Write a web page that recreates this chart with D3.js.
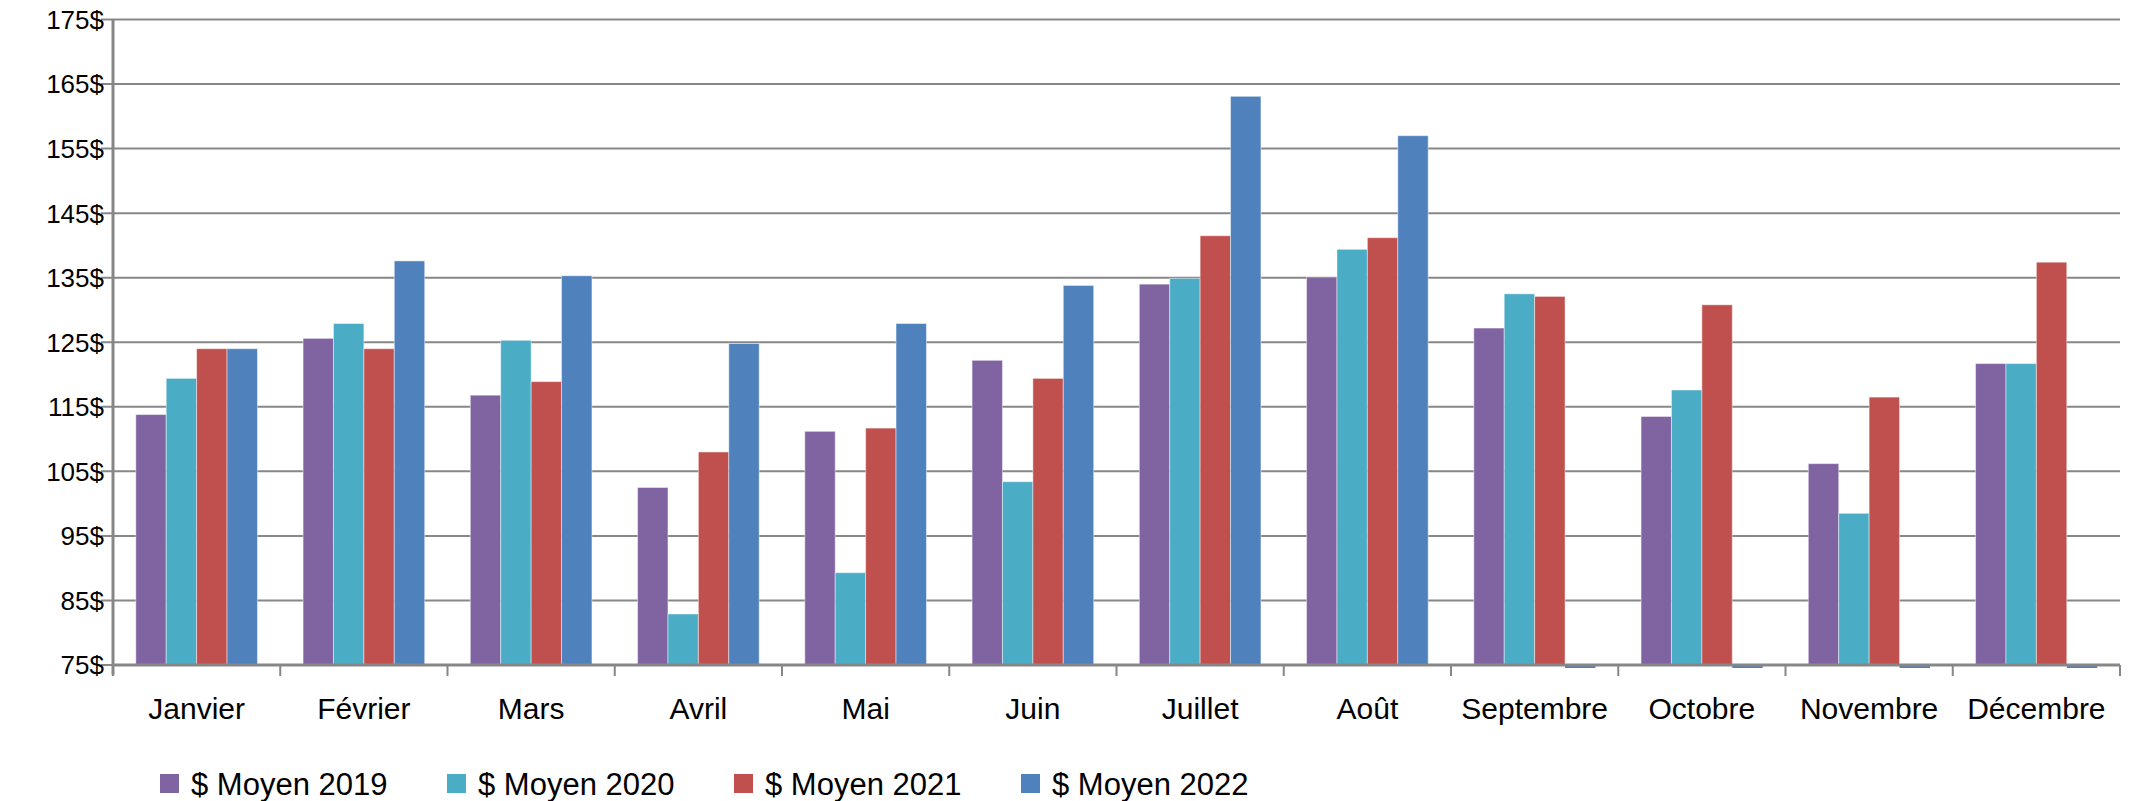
<!DOCTYPE html>
<html><head><meta charset="utf-8">
<script src="https://cdn.jsdelivr.net/npm/d3@7"></script>
<style>
html,body{margin:0;padding:0;background:#fff;}
svg{display:block;}
text{font-family:"Liberation Sans","Arial",sans-serif;fill:#000;}
</style></head>
<body>
<svg id="chart" width="2139" height="801"></svg>
<script>
const months = ["Janvier","Février","Mars","Avril","Mai","Juin","Juillet","Août","Septembre","Octobre","Novembre","Décembre"];
const seriesNames = ["$ Moyen 2019","$ Moyen 2020","$ Moyen 2021","$ Moyen 2022"];
const v2019 = [113.8,125.6,116.8,102.5,111.2,122.2,134.0,135.1,127.2,113.5,106.2,121.7];
const v2020 = [119.4,127.9,125.3,82.9,89.3,103.4,134.9,139.4,132.5,117.6,98.5,121.7];
const v2021 = [124.0,124.0,118.9,108.0,111.7,119.4,141.5,141.2,132.1,130.8,116.5,137.4];
const v2022 = [124.0,137.6,135.3,124.8,127.9,133.8,163.1,157.0,0,0,0,0];
const yTicks = [75,85,95,105,115,125,135,145,155,165,175];
const colors = ["#8064A2","#4BACC6","#C0504D","#4F81BD"];

(function(){
const seriesValues = [v2019,v2020,v2021,v2022];
const svg = d3.select("#chart");
const pLeft = 113, pRight = 2120, pTop = 19.5, pBottom = 665;

const x0 = d3.scaleBand().domain(months).range([pLeft,pRight]).paddingInner(0).paddingOuter(0);
const x1 = d3.scaleBand().domain(seriesNames).range([0,x0.bandwidth()]).paddingInner(0).paddingOuter(0.75);
const y = d3.scaleLinear().domain([75,175]).range([pBottom,pTop]);

svg.append("g").selectAll("line").data(yTicks).join("line")
  .attr("x1",pLeft-12).attr("x2",pRight)
  .attr("y1",d=>y(d)).attr("y2",d=>y(d))
  .attr("stroke","#878787").attr("stroke-width",2);

svg.append("g").selectAll("text").data(yTicks).join("text")
  .attr("x",104).attr("y",d=>y(d)).attr("dy","0.36em")
  .attr("text-anchor","end").style("font-size","26px")
  .text(d=>d+"$");

const gBars = svg.append("g");
seriesValues.forEach((vals,si)=>{
  gBars.append("g").selectAll("rect").data(vals.map((v,i)=>({v,m:months[i]}))).join("rect")
    .attr("x",d=>x0(d.m)+x1(seriesNames[si]))
    .attr("width",x1.bandwidth())
    .attr("y",d=> d.v>=75 ? y(d.v) : y(75)+1)
    .attr("height",d=> d.v>=75 ? y(75)-y(d.v) : 2)
    .attr("fill",colors[si])
    .attr("stroke",d=>d.v>=75?"rgba(255,255,255,0.45)":"none").attr("stroke-width",1);
});

svg.append("line").attr("x1",pLeft).attr("x2",pLeft).attr("y1",pTop).attr("y2",pBottom+10)
  .attr("stroke","#878787").attr("stroke-width",3);
svg.append("line").attr("x1",pLeft).attr("x2",pRight).attr("y1",pBottom).attr("y2",pBottom)
  .attr("stroke","#878787").attr("stroke-width",3);
const bounds = months.map(m=>x0(m)).concat([pRight]);
svg.append("g").selectAll("line").data(bounds).join("line")
  .attr("x1",d=>d).attr("x2",d=>d).attr("y1",pBottom).attr("y2",pBottom+11)
  .attr("stroke","#878787").attr("stroke-width",2);

svg.append("g").selectAll("text").data(months).join("text")
  .attr("x",d=>x0(d)+x0.bandwidth()/2).attr("y",719)
  .attr("text-anchor","middle").style("font-size","30px")
  .text(d=>d);

const legendStart = 160, legendStep = 287, legendY = 784;
const lg = svg.append("g").selectAll("g").data(seriesNames).join("g")
  .attr("transform",(d,i)=>`translate(${legendStart+i*legendStep},${legendY})`);
lg.append("rect").attr("x",0).attr("y",-10).attr("width",19).attr("height",19)
  .attr("fill",(d,i)=>colors[i]);
lg.append("text").attr("x",31).attr("y",0).attr("dy","0.36em")
  .style("font-size","31px").text(d=>d);
})();
</script>
</body></html>
